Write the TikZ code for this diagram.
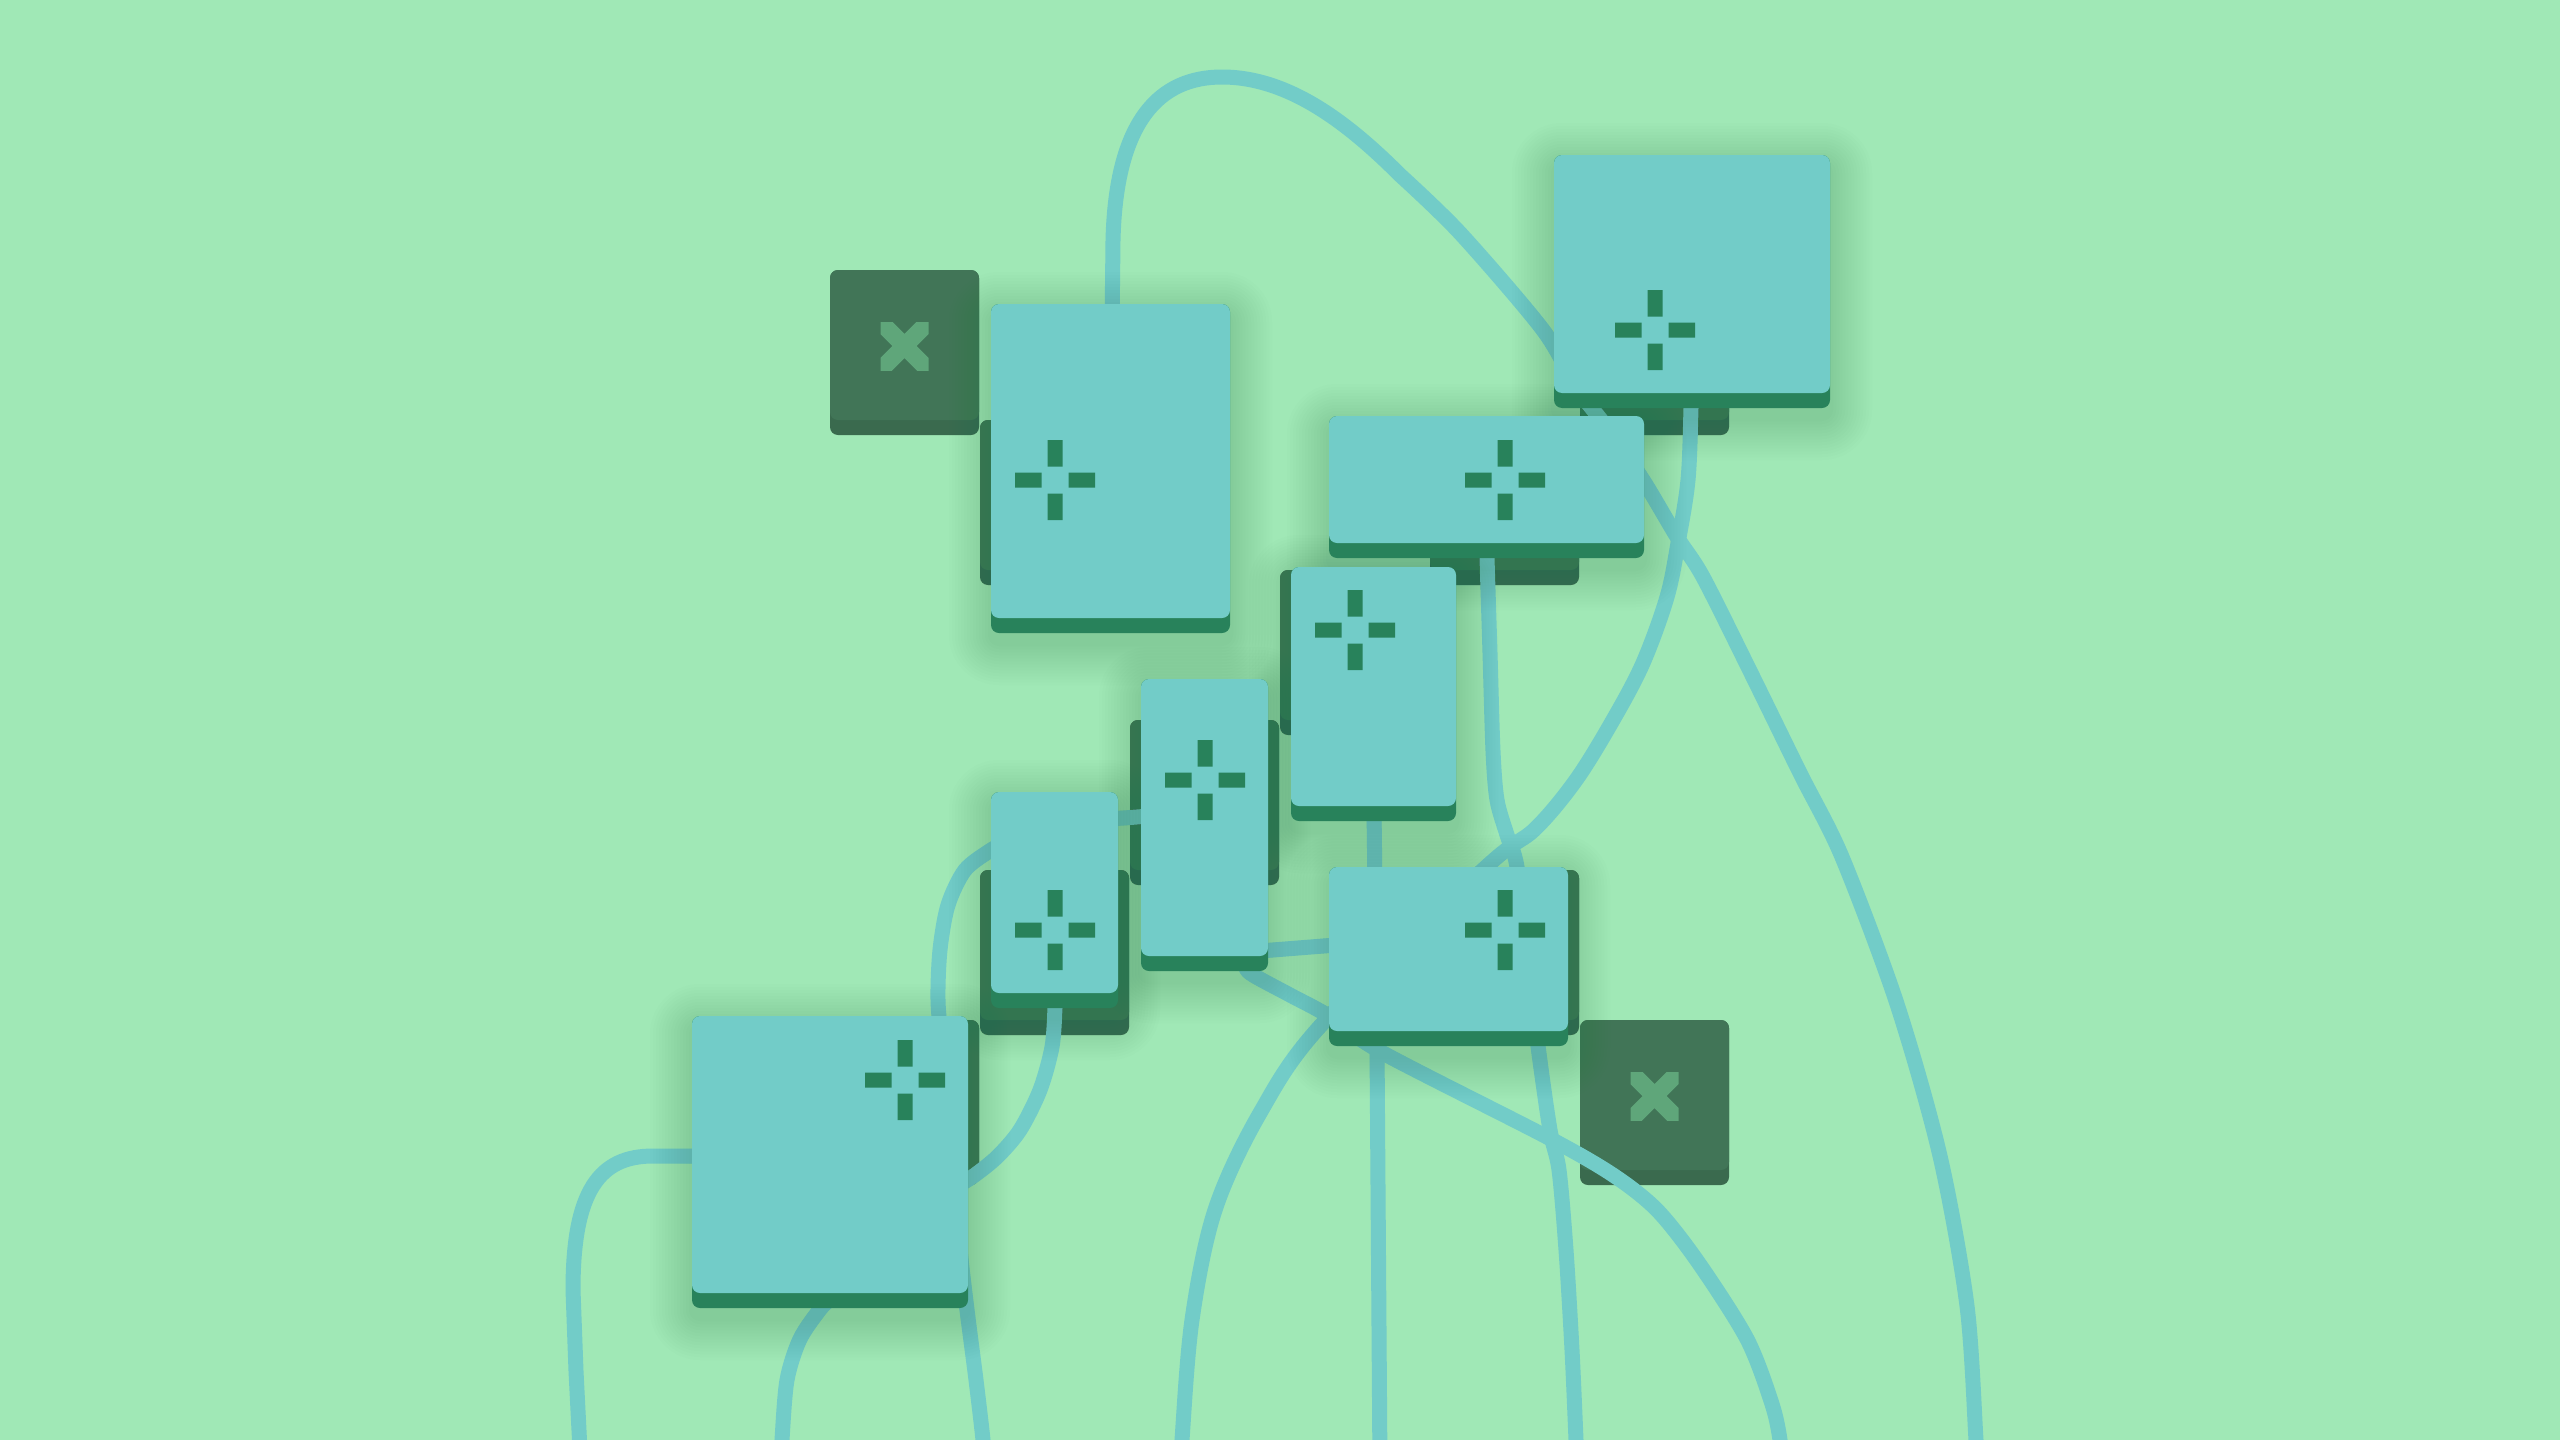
\documentclass[tikz,border=0pt]{standalone}
\definecolor{bgcol}{RGB}{160,232,182}
\definecolor{cardface}{RGB}{114,204,200}
\definecolor{cardstrip}{RGB}{40,130,91}
\definecolor{darkface}{RGB}{65,117,87}
\definecolor{darkstrip}{RGB}{58,106,78}
\definecolor{xglyph}{RGB}{95,166,122}
\definecolor{wirecol}{RGB}{114,204,200}
\definecolor{shadecol}{RGB}{40,120,80}
\newcommand\darkcard[2]{%
  \fill[darkstrip, rounded corners=8pt] (#1,#2) rectangle ++(149,165);
  \fill[darkface, rounded corners=8pt] (#1,#2) rectangle ++(149,150);}
\newcommand\xmark[2]{%
  \begin{scope}
    \clip (#1-24,#2-24) rectangle (#1+24,#2+24);
    \draw[xglyph, line width=17pt] (#1-30,#2-30) -- (#1+30,#2+30) (#1-30,#2+30) -- (#1+30,#2-30);
  \end{scope}}
\newcommand\cardshadow[4]{%
  \foreach \k in {1,...,14}{%
    \pgfmathsetmacro\rr{8+3*\k}%
    \fill[shadecol, opacity=0.014, rounded corners=\rr pt] (#1-3*\k,#2-3*\k+10) rectangle (#3+3*\k,#4+3*\k+10);}}
\newcommand\card[6]{%
  \fill[cardstrip, rounded corners=8pt] (#1,#2) rectangle (#3,#4);
  \fill[cardface, rounded corners=8pt] (#1,#2) rectangle (#3,#4-15);
  \fill[cardstrip] (#5-7.5,#6-40) rectangle (#5+7.5,#6-13.5)
    (#5-7.5,#6+13.5) rectangle (#5+7.5,#6+40)
    (#5-40,#6-7.5) rectangle (#5-13.5,#6+7.5)
    (#5+13.5,#6-7.5) rectangle (#5+40,#6+7.5);}
\begin{document}
\begin{tikzpicture}[x=1pt,y=-1pt,
  wire/.style={draw=wirecol, line width=15pt, line join=round, line cap=round}]
\useasboundingbox (0,0) rectangle (2560,1440);
\clip (0,0) rectangle (2560,1440);
\fill[bgcol] (0,0) rectangle (2560,1440);
% dark cards
\darkcard{830}{270}
\darkcard{980}{420}
\darkcard{1580}{270}
\darkcard{1430}{420}
\darkcard{1280}{570}
\darkcard{1130}{720}
\darkcard{980}{870}
\darkcard{1430}{870}
\darkcard{830}{1020}
\darkcard{1580}{1020}
\xmark{904.5}{346}
\xmark{1654.5}{1096}
% wires
\draw[wire] (1112,330) -- (1113,240) .. controls (1116,120) and (1160,77) .. (1222,77)
  .. controls (1290,77) and (1350,125) .. (1400,175)
  plot[smooth, tension=0.5] coordinates {(1400,175) (1460,233) (1543,330) (1578,390) (1605,425) (1643,480) (1677,537) (1703,577) (1751,673) (1800,773) (1842,857) (1897,1004) (1940,1156) (1967,1306) (1976,1440) (1978,1470)};
\draw[wire] plot[smooth, tension=0.55] coordinates {(1691,395) (1691,408) (1688,480) (1678,543) (1667,597) (1643,663) (1613,720) (1576,780) (1535,829) (1486,867) (1323,1023) (1260,1113) (1215,1210) (1192,1320) (1182,1440) (1181,1470)};
\draw[wire] plot[smooth, tension=0.5] coordinates {(1487,550) (1487,558) (1490,653) (1493,751) (1497,800) (1507,835) (1517,867) (1528,960) (1538,1046) (1550,1130) (1559,1170) (1566,1250) (1572,1350) (1576,1440) (1577,1470)};
\draw[wire] (1374,810) -- (1377,1045) -- (1380,1470);
\draw[wire] plot[smooth, tension=0.5] coordinates {(1245,962) (1250,973) (1290,995) (1327,1015) (1383,1053) (1547,1137) (1613,1175) (1657,1210) (1698,1262) (1747,1339) (1772,1404) (1780,1440) (1782,1470)};
\draw[wire] (1260,951) -- (1336,945);
\draw[wire] (1110,819) -- (1150,816);
\draw[wire] plot[smooth, tension=0.5] coordinates {(1000,846) (991,850) (965,870) (948,905) (940,950) (938,1000) (942,1050) (950,1150) (960,1250) (967,1310) (976,1380) (983,1440) (985,1470)};
\draw[wire] plot[smooth, tension=0.5] coordinates {(1055,1000) (1055,1008) (1052,1047) (1040,1090) (1020,1130) (997,1157) (972,1177) (950,1190)};
\draw[wire] (700,1156) -- (653,1156) .. controls (600,1156) and (573,1190) .. (573,1290) -- (576,1371) -- (581,1470);
\draw[wire] plot[smooth, tension=0.5] coordinates {(830,1300) (821,1308) (800,1339) (787,1380) (782,1440) (781,1470)};
% shadows
\cardshadow{991}{304}{1230}{633}
\cardshadow{1554}{155}{1830}{408}
\cardshadow{1329}{416}{1644}{558}
\cardshadow{1291}{567}{1456}{821}
\cardshadow{1141}{679}{1268}{971}
\cardshadow{991}{792}{1118}{1008}
\cardshadow{692}{1016}{968}{1308}
\cardshadow{1329}{867}{1568}{1046}
% cards
\card{991}{304}{1230}{633}{1055}{480}
\card{1554}{155}{1830}{408}{1655}{330}
\card{1329}{416}{1644}{558}{1505}{480}
\card{1291}{567}{1456}{821}{1355}{630}
\card{1141}{679}{1268}{971}{1205}{780}
\card{991}{792}{1118}{1008}{1055}{930}
\card{692}{1016}{968}{1308}{905}{1080}
\card{1329}{867}{1568}{1046}{1505}{930}
\end{tikzpicture}
\end{document}
